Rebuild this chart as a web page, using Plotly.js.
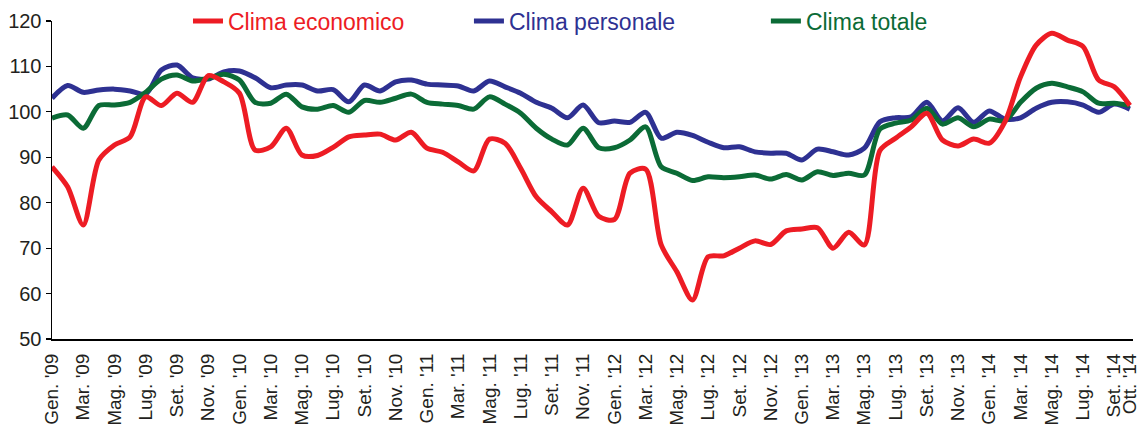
<!DOCTYPE html>
<html>
<head>
<meta charset="utf-8">
<script src="https://cdn.plot.ly/plotly-3.0.1.min.js"></script>
<style>html,body{margin:0;padding:0;background:#fff;}#chart{width:1139px;height:424px;}</style>
</head>
<body>
<div id="chart"></div>
<script>
// Month categories (Gen. '09 .. Ott. '14)
const monthNames = ["Gen.", "Feb.", "Mar.", "Apr.", "Mag.", "Giu.", "Lug.", "Ago.", "Set.", "Ott.", "Nov.", "Dic."];
const years = ["09", "10", "11", "12", "13", "14"];
const categories = [];
years.forEach(function (y) {
  monthNames.forEach(function (m) {
    if (categories.length < 70) categories.push(m + " '" + y);
  });
});

// Tick labels shown on the x axis
const tickLabels = ["Gen. '09", "Mar. '09", "Mag. '09", "Lug. '09", "Set. '09", "Nov. '09",
  "Gen. '10", "Mar. '10", "Mag. '10", "Lug. '10", "Set. '10", "Nov. '10",
  "Gen. '11", "Mar. '11", "Mag. '11", "Lug. '11", "Set. '11", "Nov. '11",
  "Gen. '12", "Mar. '12", "Mag. '12", "Lug. '12", "Set. '12", "Nov. '12",
  "Gen. '13", "Mar. '13", "Mag. '13", "Lug. '13", "Set. '13", "Nov. '13",
  "Gen. '14", "Mar. '14", "Mag. '14", "Lug. '14", "Set. '14", "Ott. '14"];

// Series values
const climaEconomico = [87.9, 83.5, 75.1, 89.4, 92.7, 94.5, 103.3, 101.4, 104.1, 102.1, 108.0, 106.6,
  104.1, 91.6, 92.3, 96.4, 90.5, 90.4, 92.2, 94.5, 94.9, 95.1, 93.8, 95.5,
  92.0, 91.1, 89.0, 87.0, 94.0, 93.1, 87.6, 81.3, 78.0, 75.1, 83.2, 77.0,
  76.3, 86.5, 87.4, 70.7, 64.8, 58.6, 68.1, 68.3, 70.0, 71.6, 70.8, 73.8,
  74.2, 74.5, 70.0, 73.5, 70.7, 91.5, 94.2, 96.7, 99.7, 93.8, 92.5, 94.0,
  93.1, 97.8, 107.7, 114.7, 117.3, 115.8, 114.4, 107.0, 105.5, 101.4];

const climaPersonale = [103.0, 105.8, 104.3, 104.8, 105.0, 104.6, 103.9, 109.2, 110.3, 107.5, 107.2, 108.8,
  109.0, 107.5, 105.3, 105.9, 105.9, 104.6, 104.9, 102.2, 105.9, 104.6, 106.6, 107.0,
  106.1, 105.9, 105.7, 104.6, 106.8, 105.5, 104.1, 102.1, 100.8, 98.7, 101.5, 97.6,
  98.0, 97.7, 99.9, 94.2, 95.5, 94.8, 93.3, 92.1, 92.3, 91.2, 90.9, 90.9,
  89.4, 91.8, 91.2, 90.5, 92.0, 97.8, 98.7, 98.9, 102.1, 98.0, 100.9, 97.7,
  100.2, 98.4, 98.7, 100.8, 102.1, 102.2, 101.5, 99.9, 101.7, 100.6];

const climaTotale = [98.6, 99.3, 96.4, 101.4, 101.5, 102.1, 104.3, 107.2, 108.1, 106.8, 107.4, 108.3,
  107.0, 102.1, 101.9, 103.9, 101.1, 100.6, 101.4, 99.9, 102.5, 102.1, 103.0, 103.9,
  102.1, 101.7, 101.4, 100.6, 103.3, 101.7, 99.7, 96.4, 94.0, 92.7, 96.4, 92.1,
  92.1, 93.8, 96.7, 87.9, 86.5, 84.9, 85.7, 85.5, 85.7, 86.1, 85.2, 86.2,
  85.0, 86.8, 86.0, 86.5, 86.1, 96.2, 97.5, 98.2, 100.8, 97.3, 98.7, 96.7,
  98.4, 98.0, 102.1, 105.2, 106.3, 105.5, 104.4, 101.9, 101.9, 101.4];

const RED = "#ed1c24", BLUE = "#2e3192", GREEN = "#0b6b36";
const FONT = "Liberation Sans, Arial, sans-serif";

const traces = [
  {x: categories, y: climaPersonale, name: "Clima personale", type: "scatter", mode: "lines",
   line: {color: BLUE, width: 5, shape: "spline", smoothing: 0.8}, legend: "legend2", hoverinfo: "skip"},
  {x: categories, y: climaTotale, name: "Clima totale", type: "scatter", mode: "lines",
   line: {color: GREEN, width: 5, shape: "spline", smoothing: 0.8}, legend: "legend3", hoverinfo: "skip"},
  {x: categories, y: climaEconomico, name: "Clima economico", type: "scatter", mode: "lines",
   line: {color: RED, width: 5, shape: "spline", smoothing: 0.8}, legend: "legend", hoverinfo: "skip"}
];

function leg(x, color) {
  return {x: x, y: 1.0, xanchor: "left", yanchor: "middle", orientation: "h",
    bgcolor: "rgba(0,0,0,0)", borderwidth: 0, font: {family: FONT, size: 23, color: color}};
}

const layout = {
  width: 1139, height: 424,
  margin: {l: 52, r: 6, t: 21, b: 85, pad: 0, autoexpand: false},
  paper_bgcolor: "#fff", plot_bgcolor: "#fff",
  font: {family: FONT, color: "#231f20"},
  showlegend: true,
  legend: leg(0.1258, RED),
  legend2: leg(0.3857, BLUE),
  legend3: leg(0.6604, GREEN),
  xaxis: {
    type: "category", categoryorder: "array", categoryarray: categories,
    range: [0, 69.2], tickmode: "array", tickvals: tickLabels, ticktext: tickLabels,
    tickangle: -90, tickfont: {family: FONT, size: 19, color: "#231f20"}, ticklabelstandoff: 5,
    showline: true, linecolor: "#000", linewidth: 2, ticks: "", showgrid: false, zeroline: false,
    fixedrange: true, automargin: false
  },
  yaxis: {
    range: [50, 120], tickmode: "linear", tick0: 50, dtick: 10,
    ticks: "outside", ticklen: 5, tickwidth: 1.2, tickcolor: "#000",
    showline: true, linecolor: "#000", linewidth: 1.5, showgrid: false, zeroline: false,
    tickfont: {family: FONT, size: 20, color: "#231f20"}, fixedrange: true, automargin: false
  }
};

Plotly.newPlot("chart", traces, layout, {displayModeBar: false, staticPlot: true});
</script>
</body>
</html>
